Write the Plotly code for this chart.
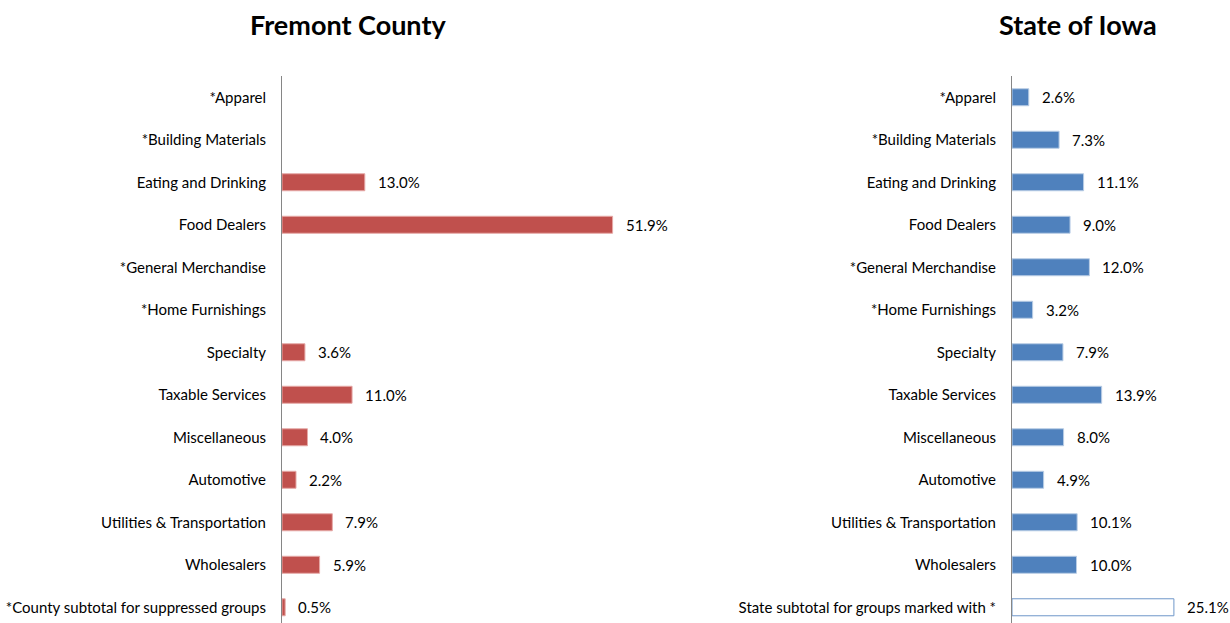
import plotly.graph_objects as go

# categories, top to bottom
county_cats = ["*Apparel", "*Building Materials", "Eating and Drinking", "Food Dealers",
               "*General Merchandise", "*Home Furnishings", "Specialty", "Taxable Services",
               "Miscellaneous", "Automotive", "Utilities & Transportation", "Wholesalers",
               "*County subtotal for suppressed groups"]
state_cats = county_cats[:-1] + ["State subtotal for groups marked with *"]

# percent shares (None = suppressed)
county_vals = [None, None, 13.0, 51.9, None, None, 3.6, 11.0, 4.0, 2.2, 7.9, 5.9, 0.5]
state_vals = [2.6, 7.3, 11.1, 9.0, 12.0, 3.2, 7.9, 13.9, 8.0, 4.9, 10.1, 10.0, 25.1]

FONT = "Lato"
W, H = 1230, 623

fig = go.Figure()

fig.add_trace(go.Bar(
    y=county_cats, x=county_vals,
    orientation="h", width=0.4,
    marker=dict(color="#C0504D", line=dict(color="#E6A9A7", width=1)),
    xaxis="x", yaxis="y", hoverinfo="skip",
))

state_colors = ["#4F81BD"] * (len(state_vals) - 1) + ["#FFFFFF"]
state_lines = ["#B9CDE5"] * (len(state_vals) - 1) + ["#6F97C9"]
fig.add_trace(go.Bar(
    y=state_cats, x=state_vals,
    orientation="h", width=0.4,
    marker=dict(color=state_colors, line=dict(color=state_lines, width=1)),
    xaxis="x2", yaxis="y2", hoverinfo="skip",
))

annotations = []
for c, v in zip(county_cats, county_vals):
    if v is None:
        continue
    annotations.append(dict(x=v, y=c, xref="x", yref="y", text=f"{v:.1f}%",
                            showarrow=False, xanchor="left", xshift=11,
                            font=dict(family=FONT, size=15, color="#000")))
for c, v in zip(state_cats, state_vals):
    annotations.append(dict(x=v, y=c, xref="x2", yref="y2", text=f"{v:.1f}%",
                            showarrow=False, xanchor="left", xshift=11,
                            font=dict(family=FONT, size=15, color="#000")))

for name, cx in [("Fremont County", 348), ("State of Iowa", 1078)]:
    annotations.append(dict(x=cx / W, y=1 - 24 / H, xref="paper", yref="paper",
                            xanchor="center", yanchor="middle",
                            text=f"<b>{name}</b>", showarrow=False,
                            font=dict(family=FONT, size=27, color="#000")))

top = 1 - 76 / H
yax = dict(type="category", categoryorder="array", range=[12.37, -0.5],
           showline=True, linecolor="#868686", linewidth=1, showgrid=False,
           ticks="", ticklabelstandoff=12, zeroline=False,
           tickfont=dict(family=FONT, size=15, color="#000"))
xax = dict(visible=False, showgrid=False, zeroline=False)

fig.update_layout(
    width=W, height=H,
    margin=dict(l=0, r=0, t=0, b=0),
    paper_bgcolor="white", plot_bgcolor="white",
    showlegend=False,
    xaxis=dict(xax, domain=[282 / W, 700 / W], range=[0, (700 - 282) / 6.37]),
    yaxis=dict(yax, domain=[0, top], categoryarray=county_cats, anchor="x"),
    xaxis2=dict(xax, domain=[1012 / W, 1.0], range=[0, (W - 1012) / 6.45]),
    yaxis2=dict(yax, domain=[0, top], categoryarray=state_cats, anchor="x2"),
    annotations=annotations,
)

fig.write_html("out.html", config={"displayModeBar": False},
               post_script="document.body.style.margin='0';document.body.style.overflow='hidden';")
